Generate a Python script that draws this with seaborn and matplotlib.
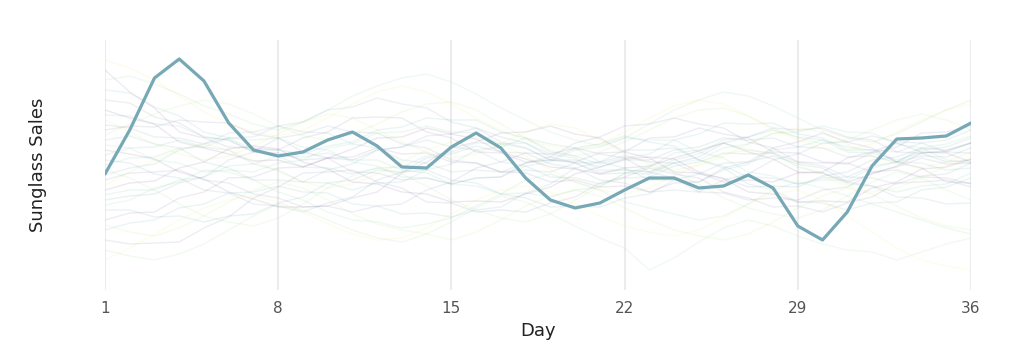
import numpy as np
import pandas as pd
import matplotlib
matplotlib.use("Agg")
import matplotlib.pyplot as plt
import seaborn as sns

days = list(range(1, 37))
tick_days = [1, 8, 15, 22, 29, 36]

highlight_sales = [126, 170, 222, 241, 219, 177, 150, 144, 148, 160, 168, 154,
                   133, 132, 153, 167, 152, 122, 100, 92, 97, 110, 122, 122,
                   112, 114, 125, 112, 74, 60, 88, 134, 161, 162, 164, 177]

bg_sales = [
    [190, 182, 176, 158, 152, 146, 139, 140, 133, 142, 151, 162, 163, 172, 166, 161, 148, 141, 133, 131, 126, 132, 134, 142, 149, 157, 148, 141, 128, 127, 118, 126, 134, 147, 149, 157],
    [110, 117, 119, 132, 138, 151, 154, 151, 138, 131, 118, 116, 108, 106, 98, 99, 98, 106, 113, 126, 133, 141, 143, 141, 128, 121, 108, 106, 98, 99, 98, 112, 118, 131, 133, 141],
    [150, 146, 141, 128, 121, 108, 101, 93, 93, 94, 102, 108, 127, 138, 152, 158, 167, 168, 174, 166, 162, 148, 142, 128, 127, 118, 120, 118, 127, 128, 142, 148, 157, 148, 147, 138],
    [80, 87, 88, 102, 108, 122, 123, 132, 133, 142, 143, 152, 146, 147, 138, 137, 128, 127, 118, 120, 113, 114, 108, 117, 118, 132, 138, 152, 158, 167, 158, 152, 138, 132, 118, 117],
    [230, 208, 192, 168, 162, 153, 152, 150, 162, 168, 182, 183, 182, 168, 162, 148, 147, 138, 140, 138, 147, 148, 162, 163, 172, 166, 162, 148, 147, 138, 137, 128, 130, 123, 122, 116],
    [60, 56, 57, 58, 72, 83, 102, 113, 127, 128, 130, 118, 112, 98, 97, 88, 90, 88, 97, 103, 117, 123, 132, 126, 122, 108, 102, 93, 94, 88, 97, 103, 117, 118, 120, 113],
    [170, 174, 173, 180, 178, 177, 166, 162, 148, 142, 128, 127, 120, 122, 116, 122, 123, 137, 143, 157, 163, 174, 176, 182, 176, 172, 158, 152, 138, 137, 136, 147, 153, 167, 168, 174],
    [120, 127, 128, 130, 120, 117, 106, 102, 93, 94, 88, 94, 96, 110, 118, 132, 138, 147, 146, 152, 146, 142, 128, 122, 108, 107, 100, 102, 100, 110, 113, 127, 133, 142, 136, 137],
    [200, 197, 183, 177, 163, 160, 148, 147, 140, 142, 140, 150, 153, 164, 166, 172, 163, 157, 143, 137, 126, 127, 126, 137, 143, 157, 163, 172, 170, 172, 163, 160, 148, 147, 138, 140],
    [100, 104, 106, 117, 123, 140, 148, 162, 166, 174, 168, 167, 156, 152, 140, 137, 128, 130, 128, 137, 138, 144, 138, 137, 126, 122, 113, 114, 113, 124, 128, 140, 143, 152, 150, 157],
    [140, 137, 126, 122, 110, 107, 96, 94, 88, 97, 103, 120, 128, 142, 146, 154, 148, 147, 136, 132, 120, 117, 108, 110, 108, 120, 126, 140, 146, 157, 158, 164, 158, 157, 148, 147],
    [175, 172, 163, 162, 156, 162, 163, 174, 178, 190, 193, 202, 196, 192, 178, 172, 158, 152, 140, 140, 133, 140, 140, 150, 153, 162, 160, 162, 153, 152, 143, 144, 138, 144, 143, 152],
    [90, 90, 83, 84, 78, 84, 86, 97, 103, 117, 120, 130, 128, 130, 120, 117, 106, 102, 93, 94, 93, 102, 106, 120, 126, 137, 138, 144, 136, 132, 118, 114, 103, 102, 96, 97],
    [160, 164, 156, 152, 138, 132, 120, 120, 118, 130, 136, 150, 153, 160, 153, 150, 138, 134, 123, 122, 116, 122, 123, 134, 138, 147, 146, 147, 138, 134, 123, 122, 116, 124, 126, 137],
    [125, 132, 136, 150, 156, 167, 168, 174, 168, 167, 156, 152, 140, 137, 128, 130, 128, 137, 140, 152, 156, 164, 158, 154, 140, 134, 123, 122, 116, 122, 123, 134, 138, 150, 153, 162],
    [70, 77, 80, 92, 96, 107, 108, 114, 108, 107, 96, 94, 86, 87, 83, 90, 93, 107, 116, 132, 138, 150, 150, 152, 140, 132, 116, 110, 98, 97, 90, 97, 98, 110, 113, 122],
    [210, 207, 193, 184, 168, 162, 150, 150, 146, 154, 158, 170, 173, 182, 180, 180, 168, 162, 148, 144, 136, 142, 146, 160, 166, 177, 176, 177, 166, 162, 150, 150, 148, 157, 160, 170],
    [145, 152, 153, 160, 153, 150, 136, 130, 118, 117, 110, 117, 118, 130, 136, 150, 153, 162, 156, 152, 138, 132, 120, 120, 118, 130, 136, 150, 153, 160, 153, 150, 138, 137, 130, 132],
    [185, 184, 176, 174, 163, 160, 148, 144, 133, 132, 126, 132, 133, 144, 148, 157, 156, 157, 146, 142, 130, 130, 128, 140, 146, 160, 163, 170, 163, 160, 148, 147, 140, 147, 148, 157],
    [105, 110, 110, 120, 123, 134, 136, 144, 143, 147, 140, 140, 130, 127, 116, 114, 106, 107, 103, 110, 113, 127, 133, 147, 150, 157, 150, 147, 133, 127, 116, 114, 108, 114, 116, 127],
    [135, 142, 143, 152, 153, 162, 160, 162, 153, 150, 138, 134, 123, 122, 116, 122, 123, 134, 138, 150, 153, 162, 160, 160, 148, 142, 128, 124, 116, 120, 120, 132, 138, 152, 156, 164],
    [155, 152, 140, 137, 128, 130, 128, 137, 140, 152, 156, 167, 168, 174, 168, 167, 156, 152, 140, 137, 128, 130, 128, 137, 140, 152, 156, 167, 168, 174, 168, 167, 156, 152, 140, 137],
    [95, 100, 112, 118, 130, 128, 120, 108, 100, 88, 80, 78, 72, 76, 82, 94, 106, 120, 126, 118, 110, 98, 92, 86, 80, 84, 96, 110, 118, 112, 104, 96, 88, 80, 72, 66],
    [220, 224, 216, 206, 194, 186, 176, 170, 178, 190, 204, 214, 222, 226, 218, 206, 192, 180, 168, 160, 154, 162, 176, 190, 200, 208, 204, 194, 182, 170, 162, 158, 166, 178, 190, 200],
    [50, 44, 40, 46, 56, 70, 84, 96, 90, 80, 70, 62, 58, 66, 78, 92, 104, 98, 86, 74, 62, 52, 30, 42, 58, 72, 80, 74, 64, 56, 50, 48, 40, 48, 56, 62],
    [130, 122, 110, 96, 84, 78, 74, 82, 96, 112, 124, 132, 126, 114, 100, 90, 82, 78, 86, 100, 114, 126, 134, 128, 116, 102, 92, 86, 82, 90, 104, 118, 128, 122, 110, 100],
    [165, 176, 186, 194, 200, 196, 186, 174, 164, 160, 166, 176, 188, 196, 198, 190, 176, 162, 150, 144, 148, 158, 170, 182, 190, 192, 184, 172, 162, 156, 160, 170, 180, 186, 180, 170],
    [75, 68, 64, 72, 84, 98, 110, 118, 112, 100, 86, 76, 70, 66, 60, 68, 80, 94, 104, 110, 104, 92, 80, 70, 64, 60, 66, 78, 92, 104, 112, 106, 94, 82, 74, 70],
    [180, 168, 156, 146, 140, 144, 154, 166, 178, 186, 182, 170, 158, 148, 142, 146, 156, 168, 176, 172, 160, 146, 136, 130, 134, 144, 156, 166, 172, 168, 156, 144, 136, 132, 138, 148],
    [115, 128, 140, 150, 156, 150, 140, 128, 118, 112, 116, 126, 138, 150, 158, 162, 156, 144, 130, 118, 110, 106, 112, 124, 136, 146, 150, 146, 136, 124, 114, 108, 112, 122, 134, 142],
    [240, 232, 220, 204, 188, 176, 168, 164, 170, 182, 196, 208, 214, 208, 196, 182, 170, 160, 154, 150, 156, 168, 182, 194, 200, 196, 184, 170, 160, 152, 150, 156, 168, 180, 190, 196],
    [40, 52, 66, 80, 92, 100, 104, 98, 88, 76, 66, 60, 62, 72, 86, 100, 110, 114, 108, 96, 84, 74, 68, 64, 70, 82, 96, 106, 110, 100, 84, 68, 52, 40, 34, 30],
]

rows = []
for i, series in enumerate(bg_sales):
    for d, v in zip(days, series):
        rows.append({"Day": d, "Sales": v, "series": i})
bg_df = pd.DataFrame(rows)
hl_df = pd.DataFrame({"Day": days, "Sales": highlight_sales})

sns.set_theme(style="white")
plt.rcParams["font.family"] = ["DejaVu Sans"]

fig = plt.figure(figsize=(10.24, 3.62), dpi=100)
ax = fig.add_axes([105 / 1024, 1 - 290 / 362, (971 - 105) / 1024, 250 / 362])

sns.lineplot(data=bg_df, x="Day", y="Sales", hue="series", palette="viridis",
             alpha=0.09, linewidth=1.0, legend=False, ax=ax, estimator=None)
sns.lineplot(data=hl_df, x="Day", y="Sales", color="#76a8b5", linewidth=2.3,
             ax=ax, estimator=None)

ax.set_xlim(1, 36)
ax.set_ylim(10, 260)
ax.set_xticks(tick_days)
ax.set_xticklabels([str(t) for t in tick_days])
ax.set_yticks([])
ax.xaxis.grid(True, color="#ececef", linewidth=1.5)
ax.set_axisbelow(True)
ax.tick_params(axis="x", length=0, pad=8, labelsize=11, labelcolor="#555555")
for s in ax.spines.values():
    s.set_visible(False)
ax.set_xlabel("Day", fontsize=13, color="#222222", labelpad=4)
ax.set_ylabel("Sunglass Sales", fontsize=13, color="#222222", labelpad=42)

fig.savefig("out.png", dpi=100)
